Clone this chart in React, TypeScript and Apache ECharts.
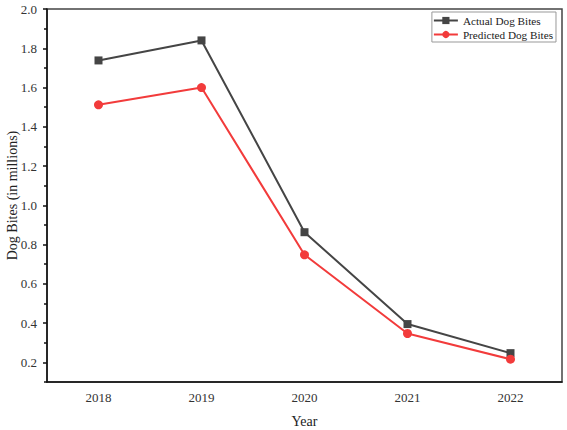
import React, { useEffect, useRef } from "react";
import * as echarts from "echarts";

const years = ["2018", "2019", "2020", "2021", "2022"];
const actualBites = [1.738, 1.84, 0.863, 0.395, 0.247];
const predictedBites = [1.512, 1.6, 0.748, 0.347, 0.216];
const majorTicks = [0.2, 0.4, 0.6, 0.8, 1.0, 1.2, 1.4, 1.6, 1.8, 2.0];
const minorTicks = [0.1, 0.3, 0.5, 0.7, 0.9, 1.1, 1.3, 1.5, 1.7, 1.9];

const FONT = "'Liberation Serif', 'Times New Roman', serif";

export default function App() {
  const ref = useRef<HTMLDivElement>(null);

  useEffect(() => {
    if (!ref.current) return;
    const chart = echarts.init(ref.current, null, { renderer: "svg" });
    const axisLine = { show: true, lineStyle: { color: "#111", width: 1.5 } };
    chart.setOption({
      animation: false,
      backgroundColor: "#fff",
      textStyle: { fontFamily: FONT },
      grid: {
        left: 47,
        right: 5,
        top: 9,
        bottom: 48,
        containLabel: false,
        outerBoundsMode: "none",
        show: true,
        borderColor: "#444",
        borderWidth: 1.5,
      },
      legend: {
        orient: "vertical",
        right: 11,
        top: 12,
        itemWidth: 24,
        itemHeight: 9,
        itemGap: 3,
        padding: [3, 3, 2, 1],
        borderColor: "#999",
        borderWidth: 1,
        textStyle: { fontFamily: FONT, fontSize: 11.2, color: "#222" },
        data: ["Actual Dog Bites", "Predicted Dog Bites"],
      },
      xAxis: [
        {
          type: "category",
          data: years,
          boundaryGap: true,
          name: "Year",
          nameLocation: "middle",
          nameGap: 32,
          nameMoveOverlap: false,
          nameTextStyle: { fontFamily: FONT, fontSize: 14, color: "#222" },
          axisLine,
          axisTick: { alignWithLabel: true, length: 5, lineStyle: { color: "#111", width: 1.5 } },
          axisLabel: { fontFamily: FONT, fontSize: 13, color: "#333", margin: 9 },
          splitLine: { show: false },
        },
        {
          type: "category",
          data: years,
          boundaryGap: true,
          position: "bottom",
          axisLine: { show: false },
          axisTick: { length: 3, lineStyle: { color: "#111", width: 1.5 } },
          axisLabel: { show: false },
          splitLine: { show: false },
        },
      ],
      yAxis: [
        {
          type: "value",
          min: 0.1,
          max: 2.0,
          interval: 0.1,
          name: "Dog Bites (in millions)",
          nameLocation: "middle",
          nameGap: 28,
          nameMoveOverlap: false,
          nameTextStyle: { fontFamily: FONT, fontSize: 14, color: "#222" },
          axisLine,
          axisTick: {
            show: true,
            length: 4,
            customValues: majorTicks,
            lineStyle: { color: "#111", width: 1.5 },
          },
          axisLabel: {
            fontFamily: FONT,
            fontSize: 13,
            color: "#333",
            margin: 10,
            customValues: majorTicks,
            formatter: (v: number) => v.toFixed(1),
          },
          splitLine: { show: false },
        },
        {
          type: "value",
          min: 0.1,
          max: 2.0,
          interval: 0.1,
          position: "left",
          axisLine: { show: false },
          axisTick: {
            show: true,
            length: 3,
            customValues: minorTicks,
            lineStyle: { color: "#111", width: 1.5 },
          },
          axisLabel: { show: false },
          splitLine: { show: false },
        },
      ],
      series: [
        {
          name: "Actual Dog Bites",
          type: "line",
          data: actualBites,
          symbol: "rect",
          symbolSize: 8,
          color: "#454545",
          lineStyle: { color: "#454545", width: 2 },
          itemStyle: { color: "#454545" },
        },
        {
          name: "Predicted Dog Bites",
          type: "line",
          data: predictedBites,
          symbol: "circle",
          symbolSize: 9,
          color: "#f23b3b",
          lineStyle: { color: "#f23b3b", width: 2 },
          itemStyle: { color: "#f23b3b" },
        },
      ],
    });
    return () => chart.dispose();
  }, []);

  return <div ref={ref} style={{ width: 567, height: 430, position: "absolute", left: 0, top: 0 }} />;
}
